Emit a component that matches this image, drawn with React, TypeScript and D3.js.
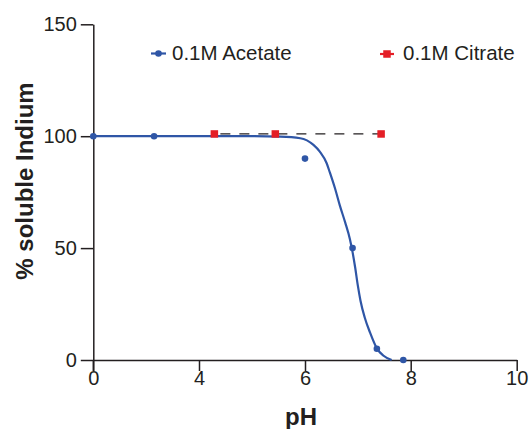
import React, { useEffect, useRef } from "react";
import * as d3 from "d3";

// tick values (x axis is broken: 0 | 4 | 6 | 8 | 10 equally spaced)
const phTicks = [0, 4, 6, 8, 10];
const solubleTicks = [0, 50, 100, 150];

// measured points
const acetatePH = [0, 2.3, 6.0, 6.9, 7.36, 7.86];
const acetateVal = [100, 100, 90, 50, 5, 0];
const citratePH = [4.29, 5.44, 7.44];
const citrateVal = [101, 101, 101];

// fitted curve for acetate
const fitPH = [0, 5.0, 5.53, 5.91, 6.16, 6.28, 6.41, 6.47, 6.57, 6.66, 6.76, 6.85, 6.9, 6.95, 7.0, 7.05, 7.13, 7.23, 7.36, 7.48, 7.64];
const fitVal = [100, 100, 99.8, 99.1, 96.1, 93.1, 87.9, 83.8, 76.5, 69, 61.5, 54, 48.2, 41.2, 33.2, 26.5, 19, 12.3, 5.2, 2.0, 0];

const seriesNames = ["0.1M Acetate", "0.1M Citrate"];

const BLUE = "#2f56a6";
const RED = "#e41e26";
const INK = "#231f20";
const FONT = "'Liberation Sans', Arial, Helvetica, sans-serif";

export default function App() {
  const ref = useRef<SVGGElement>(null);
  const W = 529;
  const H = 429;

  const x = d3.scaleLinear().domain(phTicks).range([93.3, 199, 305, 410.7, 516.7]);
  const y = d3.scaleLinear().domain([0, 150]).range([360, 24.3]);

  useEffect(() => {
    const g = d3.select(ref.current);
    g.selectAll("*").remove();

    // axes
    const xAxis = d3.axisBottom(x).tickValues(phTicks).tickSize(11).tickSizeOuter(0).tickPadding(0).tickFormat(d3.format("d"));
    const yAxis = d3.axisLeft(y).tickValues(solubleTicks).tickSize(12.5).tickSizeOuter(0).tickPadding(4);

    const gx = g.append("g").attr("transform", `translate(0,${y(0)})`).call(xAxis);
    const gy = g.append("g").attr("transform", `translate(${x(0)},0)`).call(yAxis);
    [gx, gy].forEach(a => {
      a.selectAll("path,line").attr("stroke", INK).attr("stroke-width", 1.5);
      a.selectAll("text").attr("fill", INK).style("font-family", FONT).style("font-size", "20px");
    });
    // y axis line continues below the x axis
    g.append("line")
      .attr("x1", x(0)).attr("x2", x(0))
      .attr("y1", y(0)).attr("y2", y(0) + 11)
      .attr("stroke", INK).attr("stroke-width", 1.5);

    // citrate dashed line
    const citrate = citratePH.map((p, i) => [p, citrateVal[i]] as [number, number]);
    g.append("path")
      .datum(citrate)
      .attr("d", d3.line<[number, number]>().x(d => x(d[0])).y(d => y(d[1])))
      .attr("fill", "none")
      .attr("stroke", INK)
      .attr("stroke-width", 1.3)
      .attr("stroke-dasharray", "10,9")
      .attr("stroke-dashoffset", -6);

    // acetate fit
    const fit = fitPH.map((p, i) => [p, fitVal[i]] as [number, number]);
    g.append("path")
      .datum(fit)
      .attr("d", d3.line<[number, number]>().x(d => x(d[0])).y(d => y(d[1])).curve(d3.curveMonotoneX))
      .attr("fill", "none")
      .attr("stroke", BLUE)
      .attr("stroke-width", 2.2);

    // acetate points
    g.selectAll(".ac")
      .data(acetatePH.map((p, i) => [p, acetateVal[i]]))
      .join("circle")
      .attr("class", "ac")
      .attr("cx", d => x(d[0]))
      .attr("cy", d => y(d[1]))
      .attr("r", 3.3)
      .attr("fill", BLUE);

    // citrate points
    const s = 7.5;
    g.selectAll(".ci")
      .data(citrate)
      .join("rect")
      .attr("class", "ci")
      .attr("x", d => x(d[0]) - s / 2)
      .attr("y", d => y(d[1]) - s / 2)
      .attr("width", s)
      .attr("height", s)
      .attr("fill", RED);

    // legend
    const leg = g.append("g");
    const l1 = leg.append("g").attr("transform", "translate(151,53.5)");
    l1.append("line").attr("x1", 0).attr("x2", 15).attr("stroke", BLUE).attr("stroke-width", 2.2);
    l1.append("circle").attr("cx", 7.5).attr("r", 3.3).attr("fill", BLUE);
    l1.append("text").attr("x", 21).attr("y", 6.5).text(seriesNames[0]);

    const l2 = leg.append("g").attr("transform", "translate(380,54)");
    l2.append("line").attr("x1", 0).attr("x2", 14).attr("stroke", RED).attr("stroke-width", 2.2);
    l2.append("rect").attr("x", 7 - s / 2).attr("y", -s / 2).attr("width", s).attr("height", s).attr("fill", RED);
    l2.append("text").attr("x", 23).attr("y", 6).text(seriesNames[1]);
    leg.selectAll("text").attr("fill", INK).style("font-family", FONT).style("font-size", "20.5px");

    // axis titles
    g.append("text")
      .attr("x", 301).attr("y", 425)
      .attr("text-anchor", "middle")
      .attr("fill", INK)
      .style("font-family", FONT).style("font-size", "24px").style("font-weight", "bold")
      .text("pH");
    g.append("text")
      .attr("transform", "translate(33,181) rotate(-90)")
      .attr("text-anchor", "middle")
      .attr("fill", INK)
      .style("font-family", FONT).style("font-size", "24px").style("font-weight", "bold")
      .text("% soluble Indium");
  }, []);

  return (
    <svg width={W} height={H} style={{ position: "absolute", left: 0, top: 0, background: "#fff" }}>
      <g ref={ref} />
    </svg>
  );
}
